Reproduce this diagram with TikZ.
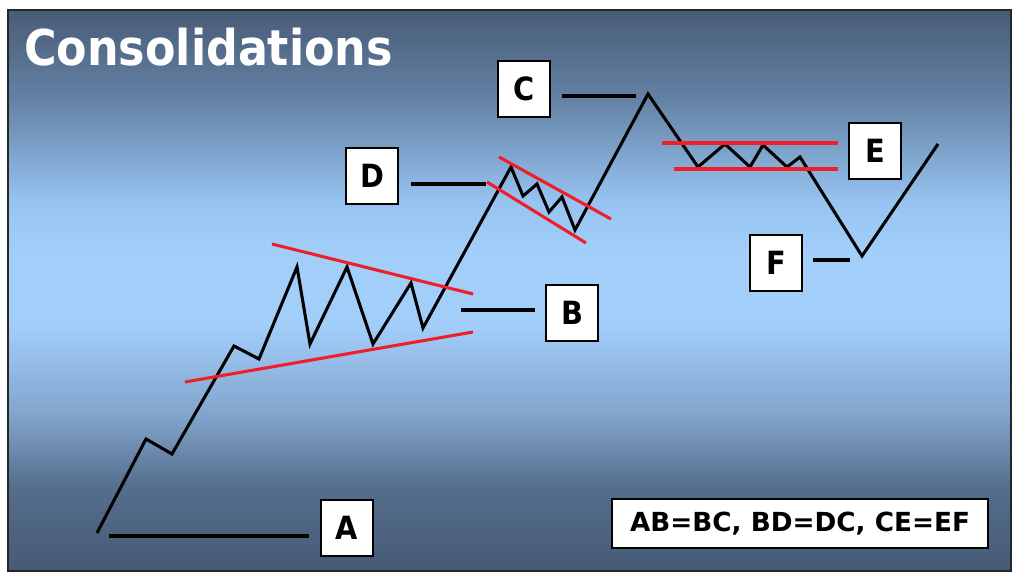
\documentclass[tikz,border=0pt]{standalone}
\usepackage{fontspec}
\setmainfont{DejaVu Sans}
\newfontfamily\lblfont{DejaVu Sans Condensed}[BoldFont={DejaVu Sans Condensed Bold}]
\newfontfamily\eqfont{DejaVu Sans}
\definecolor{topc}{RGB}{72,92,118}
\definecolor{upc}{RGB}{100,130,165}
\definecolor{lic}{RGB}{150,195,240}
\definecolor{midc}{RGB}{162,206,250}
\definecolor{lowc}{RGB}{130,165,205}
\definecolor{dkc}{RGB}{85,110,140}
\definecolor{botc}{RGB}{70,90,118}
\definecolor{redl}{RGB}{240,30,40}
\pgfdeclareverticalshading{bgsh}{100bp}{color(0bp)=(botc); color(25bp)=(botc); color(32.5bp)=(dkc); color(39bp)=(lowc); color(47bp)=(midc); color(53.5bp)=(midc); color(58bp)=(lic); color(67bp)=(upc); color(75bp)=(topc); color(100bp)=(topc)}
\tikzset{
  price/.style={line width=2.3pt, black, line join=miter},
  redline/.style={line width=2.3pt, redl},
  level/.style={line width=2.5pt, black},
  lbl/.style={draw=black, line width=1.1pt, fill=white, minimum width=39pt, minimum height=42pt, inner sep=0pt, font=\lblfont\bfseries\fontsize{24}{24}\selectfont},
}
\begin{document}
\begin{tikzpicture}[x=0.75pt,y=-0.75pt]
\useasboundingbox (0,0) rectangle (1015,573);
\fill[white] (0,0) rectangle (1015,573);
\shade[shading=bgsh] (8,10) rectangle (1011,571);
\draw[line width=2.2pt, black!85] (8,10) rectangle (1011,571);
\node[anchor=west, text=white, font=\lblfont\bfseries\fontsize{37}{37}\selectfont, inner sep=0pt] (title) at (24,47) {Consolidations};
% price path points
\coordinate (p0) at (97,533);
\coordinate (p1) at (146,439);
\coordinate (p2) at (172,454);
\coordinate (p3) at (234,346);
\coordinate (p4) at (259,359);
\coordinate (p5) at (297,267);
\coordinate (p6) at (310,344);
\coordinate (p7) at (347,267);
\coordinate (p8) at (373,344);
\coordinate (p9) at (411,283);
\coordinate (p10) at (423,328);
\coordinate (p11) at (511,167);
\coordinate (p12) at (523,196);
\coordinate (p13) at (537,184);
\coordinate (p14) at (549,212);
\coordinate (p15) at (562,197);
\coordinate (p16) at (575,230);
\coordinate (p17) at (648,94);
\coordinate (p18) at (698,167);
\coordinate (p19) at (725,144);
\coordinate (p20) at (750,167);
\coordinate (p21) at (763,145);
\coordinate (p22) at (787,167);
\coordinate (p23) at (800,157);
\coordinate (p24) at (862,256);
\coordinate (p25) at (938,144);
\draw[price] (p0) -- (p1) -- (p2) -- (p3) -- (p4) -- (p5) -- (p6) -- (p7) -- (p8) -- (p9) -- (p10) -- (p11) -- (p12) -- (p13) -- (p14) -- (p15) -- (p16) -- (p17) -- (p18) -- (p19) -- (p20) -- (p21) -- (p22) -- (p23) -- (p24) -- (p25);
% red consolidation lines
\coordinate (t1) at (272,244); \coordinate (t2) at (473,294);
\coordinate (t3) at (185,382); \coordinate (t4) at (473,332);
\coordinate (f1) at (499,157); \coordinate (f2) at (611,219);
\coordinate (f3) at (487,182); \coordinate (f4) at (586,243);
\coordinate (e1) at (662,143); \coordinate (e2) at (838,143);
\coordinate (e3) at (674,169); \coordinate (e4) at (838,169);
\draw[redline] (t1) -- (t2);
\draw[redline] (t3) -- (t4);
\draw[redline] (f1) -- (f2);
\draw[redline] (f3) -- (f4);
\draw[redline] (e1) -- (e2);
\draw[redline] (e3) -- (e4);
% labels
\node[lbl] (A) at (347,528) {A};
\node[lbl] (B) at (572,313) {B};
\node[lbl] (C) at (524,89) {C};
\node[lbl] (D) at (372,176) {D};
\node[lbl] (E) at (875,151) {E};
\node[lbl] (F) at (776,263) {F};
% level lines
\coordinate (a1) at (109,536); \coordinate (a2) at (309,536);
\coordinate (b1) at (461,310); \coordinate (b2) at (535,310);
\coordinate (c1) at (562,96); \coordinate (c2) at (636,96);
\coordinate (d1) at (411,184); \coordinate (d2) at (486,184);
\coordinate (g1) at (813,260); \coordinate (g2) at (850,260);
\draw[level] (a1) -- (a2);
\draw[level] (b1) -- (b2);
\draw[level] (c1) -- (c2);
\draw[level] (d1) -- (d2);
\draw[level] (g1) -- (g2);
% formula box
\node[draw=black, line width=1.1pt, fill=white, minimum width=282pt, minimum height=37pt, inner sep=0pt, font=\eqfont\bfseries\fontsize{19.7}{19.7}\selectfont] (eq) at (800,523.5) {AB=BC, BD=DC, CE=EF};
\end{tikzpicture}
\end{document}
